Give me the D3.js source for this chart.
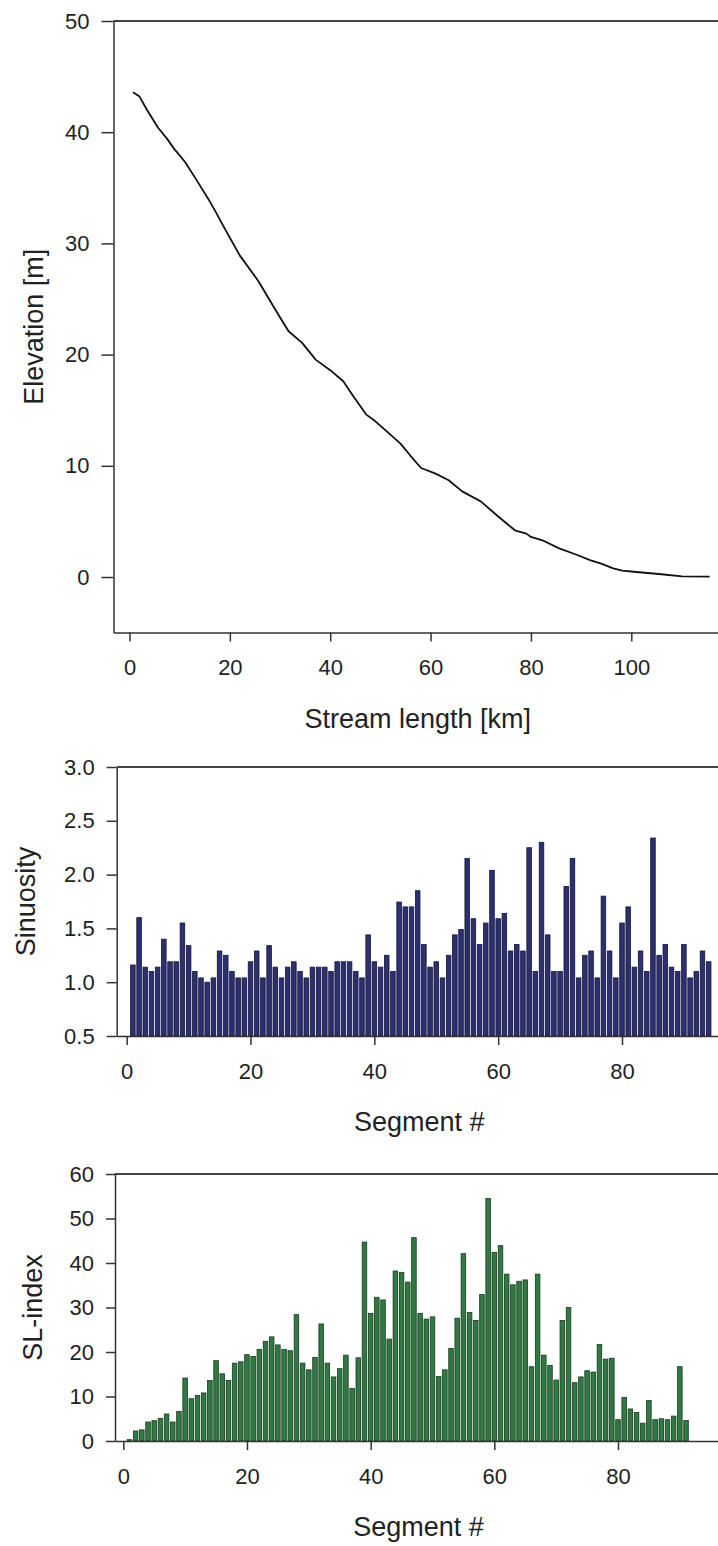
<!DOCTYPE html>
<html>
<head>
<meta charset="utf-8">
<script src="https://cdn.jsdelivr.net/npm/d3@7"></script>
<style>
  body { margin: 0; background: #fff; }
  svg text { font-family: "Liberation Sans", Arial, sans-serif; fill: #222; }
  .axis path, .axis line { stroke: #333; stroke-width: 1.5; }
</style>
</head>
<body>
<div id="chart"></div>
<script>
// longitudinal profile: stream length [km] vs elevation [m]
const profileKm = [0.7, 2.0, 3.5, 5.7, 7.5, 8.9, 10.2, 11.1, 13.5, 15.7, 17.1, 18.9, 22.0, 25.7,
  27.8, 29.8, 31.7, 34.4, 37.1, 40.0, 42.6, 44.4, 47.2, 49.0, 51.5, 54.0, 56.0, 58.1, 61.0,
  63.6, 66.3, 70.0, 73.6, 76.8, 79.1, 80.0, 82.3, 85.5, 89.1, 91.9, 94.0, 96.4, 98.2, 101.0,
  105.5, 110.1, 115.6];
const profileElev = [43.6, 43.2, 42.0, 40.4, 39.4, 38.5, 37.8, 37.3, 35.6, 34.0, 32.9, 31.4, 28.9, 26.6,
  25.0, 23.5, 22.1, 21.05, 19.55, 18.6, 17.6, 16.4, 14.6, 14.0, 13.0, 12.0, 10.9, 9.8, 9.3,
  8.7, 7.7, 6.8, 5.4, 4.2, 3.9, 3.6, 3.3, 2.6, 2.0, 1.5, 1.2, 0.78, 0.57, 0.45,
  0.27, 0.06, 0.03];

// sinuosity per segment (segments 1..94)
const sinuosity = [
  1.16, 1.60, 1.14, 1.10, 1.14, 1.40, 1.19, 1.19, 1.55, 1.34,
  1.10, 1.04, 1.00, 1.04, 1.29, 1.25, 1.10, 1.04, 1.04, 1.19,
  1.29, 1.04, 1.34, 1.14, 1.04, 1.14, 1.19, 1.10, 1.04, 1.14,
  1.14, 1.14, 1.10, 1.19, 1.19, 1.19, 1.10, 1.04, 1.44, 1.19,
  1.14, 1.25, 1.10, 1.745, 1.70, 1.70, 1.85, 1.35, 1.14, 1.19,
  1.04, 1.25, 1.44, 1.49, 2.15, 1.59, 1.35, 1.55, 2.04, 1.59,
  1.64, 1.29, 1.35, 1.29, 2.25, 1.10, 2.30, 1.44, 1.10, 1.10,
  1.89, 2.15, 1.04, 1.25, 1.29, 1.04, 1.80, 1.29, 1.04, 1.55,
  1.70, 1.14, 1.29, 1.10, 2.34, 1.25, 1.35, 1.14, 1.10, 1.35,
  1.04, 1.10, 1.29, 1.19];

// SL-index per segment (segments 1..91)
const slIndex = [
  0.3, 2.25, 2.5, 4.27, 4.57, 5.1, 6.07, 4.27, 6.67, 14.16,
  9.5, 10.26, 10.8, 13.6, 18.05, 15.1, 13.6, 17.5, 17.8, 19.4,
  19.0, 20.6, 22.4, 23.4, 21.6, 20.6, 20.3, 28.4, 17.5, 16.0,
  18.8, 26.3, 17.5, 14.4, 16.25, 19.3, 11.8, 18.7, 44.7, 28.7,
  32.3, 31.7, 22.9, 38.2, 37.9, 35.7, 45.7, 28.7, 27.4, 27.9,
  14.5, 16.0, 20.8, 27.6, 42.1, 28.9, 27.1, 32.9, 54.5, 42.4,
  43.9, 37.5, 35.1, 35.9, 36.2, 16.7, 37.5, 19.3, 17.0, 13.7,
  27.1, 30.0, 13.1, 14.4, 15.8, 15.5, 21.7, 18.4, 18.6, 4.8,
  9.8, 7.2, 6.4, 4.0, 9.1, 4.8, 5.0, 4.8, 5.6, 16.7, 4.6];

const elevTicks = [0, 10, 20, 30, 40, 50];
const kmTicks = [0, 20, 40, 60, 80, 100];
const sinTicks = [0.5, 1.0, 1.5, 2.0, 2.5, 3.0];
const slTicks = [0, 10, 20, 30, 40, 50, 60];
const segTicks = [0, 20, 40, 60, 80];

const W = 718, H = 1546;
const svg = d3.select('#chart').append('svg')
  .attr('width', W)
  .attr('height', H);

// one panel: open frame (left axis, bottom axis, top line), cut at the right edge
function panel(opt) {
  const g = svg.append('g');
  const x = d3.scaleLinear().domain(opt.xdom).range(opt.xrange);
  const y = d3.scaleLinear().domain(opt.ydom).range(opt.yrange);
  const left = opt.axisX;
  const bottom = y(opt.ydom[0]);
  const top = y(opt.ydom[1]);

  // x axis spans from the y axis to the edge of the page
  const xa = x.copy().domain([x.invert(left), x.invert(W)]).range([left, W]);
  g.append('g')
    .attr('class', 'axis')
    .attr('transform', `translate(0,${bottom})`)
    .call(d3.axisBottom(xa).tickValues(opt.xticks).tickSize(opt.xtick)
      .tickSizeOuter(0).tickPadding(18))
    .selectAll('text').style('font-size', '22px');

  g.append('g')
    .attr('class', 'axis')
    .attr('transform', `translate(${left},0)`)
    .call(d3.axisLeft(y).tickValues(opt.yticks).tickSize(opt.ytick)
      .tickSizeOuter(0).tickPadding(12).tickFormat(opt.yfmt || d3.format('d')))
    .selectAll('text').style('font-size', '22px');

  // top line of the frame
  g.append('line')
    .attr('x1', left).attr('x2', W)
    .attr('y1', top).attr('y2', top)
    .attr('stroke', '#444').attr('stroke-width', 2);

  g.append('text')
    .attr('x', (left + W) / 2 + 2)
    .attr('y', bottom + 95)
    .attr('text-anchor', 'middle')
    .style('font-size', '27px')
    .text(opt.xlabel);

  g.append('text')
    .attr('transform', `translate(${opt.ylabelX},${(top + bottom) / 2}) rotate(-90)`)
    .attr('text-anchor', 'middle')
    .style('font-size', '27px')
    .text(opt.ylabel);

  return {g, x, y};
}

// --- elevation profile
const p1 = panel({
  xdom: [0, 100], xrange: [129.5, 631.3],
  ydom: [-5, 50], yrange: [632.6, 21],
  axisX: 113.5, xtick: 9, ytick: 12,
  xticks: kmTicks, yticks: elevTicks,
  xlabel: 'Stream length [km]', ylabel: 'Elevation [m]', ylabelX: 43
});
const profile = profileKm.map((k, i) => [k, profileElev[i]]);
p1.g.append('path')
  .datum(profile)
  .attr('fill', 'none')
  .attr('stroke', '#111')
  .attr('stroke-width', 1.8)
  .attr('stroke-linejoin', 'round')
  .attr('d', d3.line().x(d => p1.x(d[0])).y(d => p1.y(d[1])));

// --- sinuosity
const p2 = panel({
  xdom: [0, 80], xrange: [126.7, 622],
  ydom: [0.5, 3.0], yrange: [1036, 767],
  axisX: 116.7, xtick: 9, ytick: 10,
  xticks: segTicks, yticks: sinTicks, yfmt: d3.format('.1f'),
  xlabel: 'Segment #', ylabel: 'Sinuosity', ylabelX: 35
});

function bars(p, values, fill, stroke) {
  const step = p.x(1) - p.x(0);
  const bw = step * 0.74;
  const base = p.y.domain()[0];
  p.g.insert('g', ':first-child')
    .selectAll('rect')
    .data(values)
    .join('rect')
      .attr('x', (d, i) => p.x(i + 1) - bw / 2)
      .attr('width', bw)
      .attr('y', d => p.y(d))
      .attr('height', d => p.y(base) - p.y(d))
      .attr('fill', fill)
      .attr('stroke', stroke)
      .attr('stroke-width', 0.8);
}
bars(p2, sinuosity, '#2d3070', '#14163a');

// --- SL-index
const p3 = panel({
  xdom: [0, 80], xrange: [123.3, 618],
  ydom: [0, 60], yrange: [1441, 1174],
  axisX: 115, xtick: 9, ytick: 9,
  xticks: segTicks, yticks: slTicks,
  xlabel: 'Segment #', ylabel: 'SL-index', ylabelX: 42
});
bars(p3, slIndex, '#2f7a42', '#1b3a22');
</script>
</body>
</html>
